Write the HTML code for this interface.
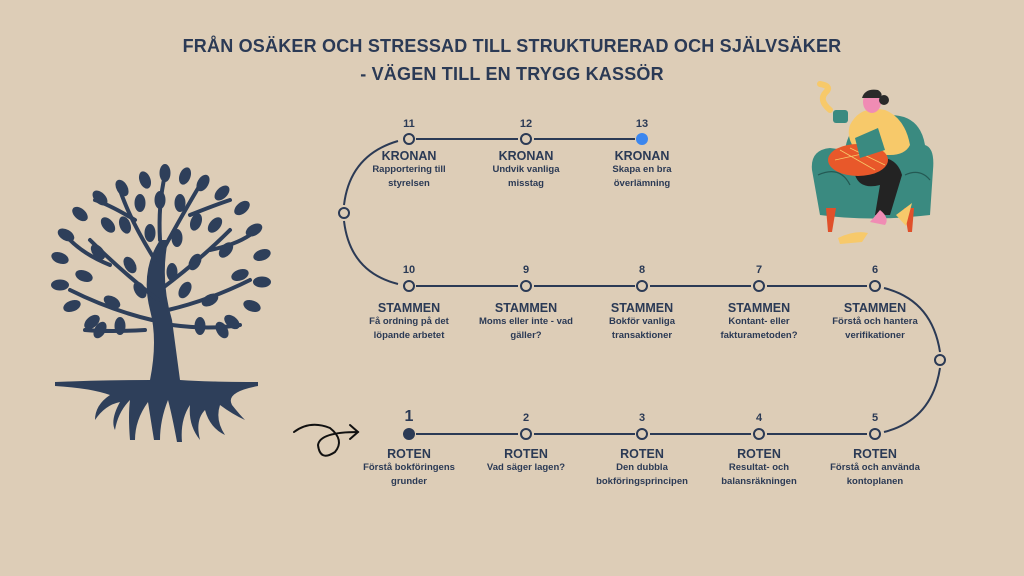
<!DOCTYPE html>
<html><head><meta charset="utf-8"><style>
html,body{margin:0;padding:0}
body{width:1024px;height:576px;background:#ddcdb7;position:relative;overflow:hidden;font-family:"Liberation Sans",sans-serif;color:#2b3a55}
.t{position:absolute;left:0;width:1024px;text-align:center;font-weight:bold;font-size:18px;letter-spacing:0.2px}
.n{position:absolute;width:140px;text-align:center;font-weight:bold}
.num{font-size:11px}
.h{font-size:12.5px}
.d{font-size:9.5px;line-height:14px}
</style></head><body>
<div class="t" style="top:36px">FRÅN OSÄKER OCH STRESSAD TILL STRUKTURERAD OCH SJÄLVSÄKER</div>
<div class="t" style="top:64px">- VÄGEN TILL EN TRYGG KASSÖR</div>

<svg width="1024" height="576" style="position:absolute;left:0;top:0">
<g stroke="#2b3a55" stroke-width="2" fill="none">
<line x1="416" y1="139" x2="518" y2="139"/><line x1="534" y1="139" x2="635" y2="139"/>
<line x1="416" y1="286" x2="518" y2="286"/><line x1="534" y1="286" x2="635" y2="286"/><line x1="650" y1="286" x2="751" y2="286"/><line x1="767" y1="286" x2="867" y2="286"/>
<line x1="416" y1="434" x2="518" y2="434"/><line x1="534" y1="434" x2="635" y2="434"/><line x1="650" y1="434" x2="751" y2="434"/><line x1="767" y1="434" x2="867" y2="434"/>
<path d="M398 141 Q350 155 344 205"/><path d="M344 221 Q350 272 398 284"/>
<path d="M884 288 Q932 300 940 352"/><path d="M940 368 Q932 420 884 432"/>
<circle cx="409" cy="139" r="5"/><circle cx="526" cy="139" r="5"/>
<circle cx="344" cy="213" r="5"/><circle cx="940" cy="360" r="5"/>
<circle cx="409" cy="286" r="5"/><circle cx="526" cy="286" r="5"/><circle cx="642" cy="286" r="5"/><circle cx="759" cy="286" r="5"/><circle cx="875" cy="286" r="5"/>
<circle cx="526" cy="434" r="5"/><circle cx="642" cy="434" r="5"/><circle cx="759" cy="434" r="5"/><circle cx="875" cy="434" r="5"/>
</g>
<circle cx="642" cy="139" r="6" fill="#3b86ee"/>
<circle cx="409" cy="434" r="6" fill="#2b3a55"/>
<g stroke="#111" stroke-width="2" fill="none" stroke-linecap="round">
<path d="M294 432 Q310 420 330 428 Q345 440 335 452 Q320 462 318 445 Q320 432 358 432"/>
<path d="M350 425 L358 432 L350 439"/>
</g>
<!-- tree -->
<g fill="#2e3f5a">
<path d="M150 380 Q158 340 150 310 Q140 270 160 240 L168 240 Q160 280 172 320 Q176 350 180 380 Q210 382 258 382 L258 386 Q225 392 232 405 Q240 415 245 420 Q232 414 220 405 Q215 420 225 435 Q210 428 205 410 Q195 420 200 440 Q188 425 190 405 Q180 420 182 442 L177 442 Q172 415 168 400 Q160 420 160 440 L154 440 Q150 415 148 402 Q135 420 135 440 L130 440 Q128 415 130 400 Q118 412 115 430 Q110 420 120 402 Q105 405 95 420 Q95 405 110 395 Q90 388 55 386 L55 382 Q100 380 150 380Z"/>
</g>
<g fill="none" stroke="#2e3f5a" stroke-width="4" stroke-linecap="round">
<path d="M158 300 Q120 270 90 240"/><path d="M160 290 Q200 260 230 230"/><path d="M155 260 Q130 220 120 190"/><path d="M163 250 Q185 210 200 185"/><path d="M152 320 Q110 310 70 290"/><path d="M168 310 Q210 300 250 280"/><path d="M160 240 Q158 205 165 175"/><path d="M145 330 Q110 332 85 330"/><path d="M172 325 Q210 330 240 325"/>
<path d="M110 265 Q85 255 70 240"/><path d="M210 250 Q235 245 250 235"/><path d="M135 220 Q110 205 95 200"/><path d="M190 215 Q215 205 230 200"/>
</g>
<g fill="#2e3f5a">
<g id="lv">
<ellipse cx="165" cy="173" rx="5.5" ry="9"/><ellipse cx="145" cy="180" rx="5.5" ry="9" transform="rotate(-20 145 180)"/><ellipse cx="185" cy="176" rx="5.5" ry="9" transform="rotate(20 185 176)"/><ellipse cx="122" cy="188" rx="5.5" ry="9" transform="rotate(-30 122 188)"/><ellipse cx="203" cy="183" rx="5.5" ry="9" transform="rotate(30 203 183)"/><ellipse cx="100" cy="198" rx="5.5" ry="9" transform="rotate(-45 100 198)"/><ellipse cx="222" cy="193" rx="5.5" ry="9" transform="rotate(45 222 193)"/><ellipse cx="80" cy="214" rx="5.5" ry="9" transform="rotate(-50 80 214)"/><ellipse cx="242" cy="208" rx="5.5" ry="9" transform="rotate(50 242 208)"/><ellipse cx="66" cy="235" rx="5.5" ry="9" transform="rotate(-60 66 235)"/><ellipse cx="254" cy="230" rx="5.5" ry="9" transform="rotate(60 254 230)"/><ellipse cx="60" cy="258" rx="5.5" ry="9" transform="rotate(-70 60 258)"/><ellipse cx="262" cy="255" rx="5.5" ry="9" transform="rotate(70 262 255)"/><ellipse cx="60" cy="285" rx="5.5" ry="9" transform="rotate(-90 60 285)"/><ellipse cx="262" cy="282" rx="5.5" ry="9" transform="rotate(90 262 282)"/><ellipse cx="72" cy="306" rx="5.5" ry="9" transform="rotate(-110 72 306)"/><ellipse cx="252" cy="306" rx="5.5" ry="9" transform="rotate(110 252 306)"/><ellipse cx="92" cy="322" rx="5.5" ry="9" transform="rotate(-130 92 322)"/><ellipse cx="232" cy="322" rx="5.5" ry="9" transform="rotate(130 232 322)"/><ellipse cx="112" cy="302" rx="5.5" ry="9" transform="rotate(-60 112 302)"/><ellipse cx="210" cy="300" rx="5.5" ry="9" transform="rotate(60 210 300)"/><ellipse cx="98" cy="252" rx="5.5" ry="9" transform="rotate(-40 98 252)"/><ellipse cx="226" cy="250" rx="5.5" ry="9" transform="rotate(40 226 250)"/><ellipse cx="125" cy="225" rx="5.5" ry="9" transform="rotate(-20 125 225)"/><ellipse cx="196" cy="222" rx="5.5" ry="9" transform="rotate(20 196 222)"/><ellipse cx="140" cy="203" rx="5.5" ry="9"/><ellipse cx="180" cy="203" rx="5.5" ry="9"/><ellipse cx="130" cy="265" rx="5.5" ry="9" transform="rotate(-30 130 265)"/><ellipse cx="195" cy="262" rx="5.5" ry="9" transform="rotate(30 195 262)"/><ellipse cx="84" cy="276" rx="5.5" ry="9" transform="rotate(-70 84 276)"/><ellipse cx="240" cy="275" rx="5.5" ry="9" transform="rotate(70 240 275)"/><ellipse cx="120" cy="326" rx="5.5" ry="9"/><ellipse cx="200" cy="326" rx="5.5" ry="9"/><ellipse cx="150" cy="233" rx="5.5" ry="9"/><ellipse cx="177" cy="238" rx="5.5" ry="9"/><ellipse cx="172" cy="272" rx="5.5" ry="9"/><ellipse cx="108" cy="225" rx="5.5" ry="9" transform="rotate(-40 108 225)"/><ellipse cx="215" cy="225" rx="5.5" ry="9" transform="rotate(40 215 225)"/><ellipse cx="140" cy="290" rx="5.5" ry="9" transform="rotate(-30 140 290)"/><ellipse cx="185" cy="290" rx="5.5" ry="9" transform="rotate(30 185 290)"/><ellipse cx="160" cy="200" rx="5.5" ry="9"/><ellipse cx="100" cy="330" rx="5.5" ry="9" transform="rotate(-150 100 330)"/><ellipse cx="222" cy="330" rx="5.5" ry="9" transform="rotate(150 222 330)"/>
</g>
</g>
<!-- woman in armchair -->
<g>
<path d="M812 170 Q810 150 830 148 L845 150 Q850 115 890 115 Q920 115 925 145 Q935 148 933 170 L930 215 Q870 222 820 215 Z" fill="#3a8a80"/>
<path d="M818 175 Q840 165 850 185 M905 175 Q920 168 930 180" stroke="#245a54" stroke-width="1.2" fill="none"/>
<path d="M826 208 L836 208 L832 232 L828 232Z" fill="#e0502a"/><path d="M904 208 L914 208 L912 232 L908 232Z" fill="#e0502a"/>
<path d="M850 125 Q860 105 885 110 Q905 118 910 145 Q905 155 890 155 L860 155 Q845 140 850 125Z" fill="#f7c96a"/>
<ellipse cx="872" cy="102" rx="9" ry="11" fill="#f08cb4"/>
<path d="M862 98 Q865 88 878 90 Q884 94 880 98 Z" fill="#2a2a2a"/><circle cx="884" cy="100" r="5" fill="#2a2a2a"/>
<path d="M860 160 Q895 150 902 175 L890 215 L875 215 L880 185 Q860 190 855 175Z" fill="#232323"/>
<path d="M880 210 Q890 218 885 225 L870 222Z" fill="#f08cb4"/>
<ellipse cx="858" cy="160" rx="30" ry="16" fill="#e8582a"/>
<path d="M835 160 L880 150 M840 150 L875 170 M850 148 L885 165" stroke="#f7c96a" stroke-width="0.8"/>
<path d="M838 238 Q855 230 868 233 L862 242 L840 244Z" fill="#f7c96a"/>
<path d="M896 215 L912 203 L906 226Z" fill="#f7c96a"/>
<path d="M830 110 Q818 100 826 92 Q832 86 820 84" fill="none" stroke="#f7c96a" stroke-width="6" stroke-linecap="round"/>
<rect x="833" y="110" width="15" height="13" rx="3" fill="#3a8a80"/>
<path d="M855 138 L878 128 L885 150 L860 158Z" fill="#3a8a80"/>
</g>
</svg>

<div class="n" style="left:339px;top:118px"><div class="num">11</div></div>
<div class="n" style="left:456px;top:118px"><div class="num">12</div></div>
<div class="n" style="left:572px;top:118px"><div class="num">13</div></div>
<div class="n" style="left:339px;top:149px"><div class="h">KRONAN</div><div class="d">Rapportering till<br>styrelsen</div></div>
<div class="n" style="left:456px;top:149px"><div class="h">KRONAN</div><div class="d">Undvik vanliga<br>misstag</div></div>
<div class="n" style="left:572px;top:149px"><div class="h">KRONAN</div><div class="d">Skapa en bra<br>överlämning</div></div>

<div class="n" style="left:339px;top:264px"><div class="num">10</div></div>
<div class="n" style="left:456px;top:264px"><div class="num">9</div></div>
<div class="n" style="left:572px;top:264px"><div class="num">8</div></div>
<div class="n" style="left:689px;top:264px"><div class="num">7</div></div>
<div class="n" style="left:805px;top:264px"><div class="num">6</div></div>
<div class="n" style="left:339px;top:301px"><div class="h">STAMMEN</div><div class="d">Få ordning på det<br>löpande arbetet</div></div>
<div class="n" style="left:456px;top:301px"><div class="h">STAMMEN</div><div class="d">Moms eller inte - vad<br>gäller?</div></div>
<div class="n" style="left:572px;top:301px"><div class="h">STAMMEN</div><div class="d">Bokför vanliga<br>transaktioner</div></div>
<div class="n" style="left:689px;top:301px"><div class="h">STAMMEN</div><div class="d">Kontant- eller<br>fakturametoden?</div></div>
<div class="n" style="left:805px;top:301px"><div class="h">STAMMEN</div><div class="d">Förstå och hantera<br>verifikationer</div></div>

<div class="n" style="left:339px;top:408px;font-size:16px">1</div>
<div class="n" style="left:456px;top:412px"><div class="num">2</div></div>
<div class="n" style="left:572px;top:412px"><div class="num">3</div></div>
<div class="n" style="left:689px;top:412px"><div class="num">4</div></div>
<div class="n" style="left:805px;top:412px"><div class="num">5</div></div>
<div class="n" style="left:339px;top:447px"><div class="h">ROTEN</div><div class="d">Förstå bokföringens<br>grunder</div></div>
<div class="n" style="left:456px;top:447px"><div class="h">ROTEN</div><div class="d">Vad säger lagen?</div></div>
<div class="n" style="left:572px;top:447px"><div class="h">ROTEN</div><div class="d">Den dubbla<br>bokföringsprincipen</div></div>
<div class="n" style="left:689px;top:447px"><div class="h">ROTEN</div><div class="d">Resultat- och<br>balansräkningen</div></div>
<div class="n" style="left:805px;top:447px"><div class="h">ROTEN</div><div class="d">Förstå och använda<br>kontoplanen</div></div>
</body></html>
